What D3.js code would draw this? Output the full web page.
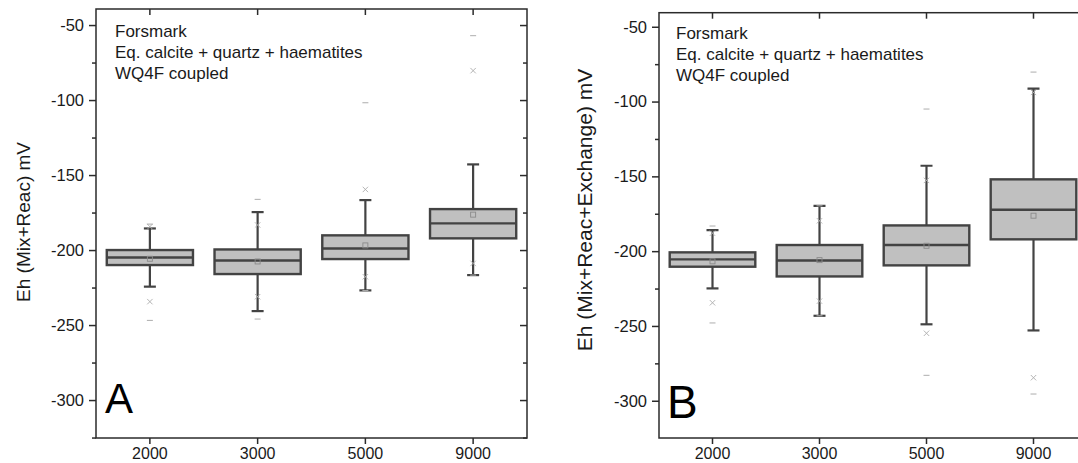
<!DOCTYPE html>
<html>
<head>
<meta charset="utf-8">
<script src="https://cdn.jsdelivr.net/npm/d3@7"></script>
<style>
  html, body { margin: 0; padding: 0; background: #fff; overflow: hidden; }
  svg { display: block; font-family: Arial, "Liberation Sans", sans-serif; }
</style>
</head>
<body>
<svg id="chart" width="1078" height="463"></svg>
<script>
// ---------- data ----------
const categories = ["2000", "3000", "5000", "9000"];
const yTicks = [-300, -250, -200, -150, -100, -50];
const yMinorTicks = [-325, -275, -225, -175, -125, -75];
const annotationLines = ["Forsmark", "Eq. calcite + quartz + haematites", "WQ4F coupled"];

// Panel A: Eh (Mix+Reac)
const aWhiskerLow  = [-224.4, -240.7, -226.9, -216.7];
const aQ1          = [-210.0, -216.0, -206.0, -192.2];
const aMedian      = [-205.0, -207.0, -199.0, -182.2];
const aQ3          = [-200.0, -199.6, -190.2, -172.7];
const aWhiskerHigh = [-185.6, -174.7, -166.7, -142.9];
const aMean        = [-205.8, -207.6, -196.9, -176.4];
const aP1          = [-234.4, -231.1, -217.8, -208.9];
const aP99         = [-184.4, -183.3, -159.6, -80.4];
const aMin         = [-246.9, -246.0, -227.0, -216.7];
const aMax         = [-182.7, -166.2, -101.8, -57.1];

// Panel B: Eh (Mix+Reac+Exchange)
const bWhiskerLow  = [-224.9, -243.2, -248.9, -253.0];
const bQ1          = [-210.4, -216.9, -209.5, -192.1];
const bMedian      = [-205.5, -206.2, -195.9, -172.3];
const bQ3          = [-200.8, -195.9, -182.8, -152.0];
const bWhiskerHigh = [-185.9, -169.7, -142.9, -91.4];
const bMean        = [-206.8, -206.0, -196.4, -176.3];
const bP1          = [-234.5, -233.4, -254.9, -284.6];
const bP99         = [-188.0, -179.7, -152.7, -93.9];
const bMin         = [-248.0, -243.2, -283.0, -295.5];
const bMax         = [-183.2, -169.7, -105.0, -80.3];

// ---------- drawing ----------
const svg = d3.select("#chart");
const BOX_STROKE = "#434343";
const FRAME = "#2b2b2b";
const MARK = "#adadad";

function panel(cfg) {
  const g = svg.append("g");
  const x = d3.scaleBand().domain(categories).range([cfg.left, cfg.right]).padding(0);
  const y = d3.scaleLinear().domain(cfg.yDomain).range([cfg.bottom, cfg.top]);
  const bw = x.bandwidth() * 0.8;
  const cx = c => x(c) + x.bandwidth() / 2;

  const rows = categories.map((c, i) => ({
    c, lo: cfg.wl[i], q1: cfg.q1[i], med: cfg.med[i], q3: cfg.q3[i], hi: cfg.wh[i],
    mean: cfg.mean[i], p1: cfg.p1[i], p99: cfg.p99[i], mn: cfg.min[i], mx: cfg.max[i]
  }));

  const clipId = "clip" + cfg.id;
  svg.append("clipPath").attr("id", clipId).append("rect")
    .attr("x", cfg.left).attr("y", cfg.top)
    .attr("width", cfg.right - cfg.left).attr("height", cfg.bottom - cfg.top);
  const plot = g.append("g").attr("clip-path", `url(#${clipId})`);

  // annotation text
  const ann = g.append("text").attr("font-size", 17).attr("fill", "#1a1a1a");
  annotationLines.forEach((t, i) => {
    ann.append("tspan").attr("x", cfg.annX).attr("y", cfg.annY + i * 21).text(t);
  });

  // whiskers
  const wg = plot.selectAll(".wh").data(rows).join("g");
  wg.append("line")
    .attr("x1", d => cx(d.c)).attr("x2", d => cx(d.c))
    .attr("y1", d => y(d.hi)).attr("y2", d => y(d.q3))
    .attr("stroke", BOX_STROKE).attr("stroke-width", 2.2);
  wg.append("line")
    .attr("x1", d => cx(d.c)).attr("x2", d => cx(d.c))
    .attr("y1", d => y(d.q1)).attr("y2", d => y(d.lo))
    .attr("stroke", BOX_STROKE).attr("stroke-width", 2.2);
  const capW = 12;
  ["hi", "lo"].forEach(k => {
    wg.append("line")
      .attr("x1", d => cx(d.c) - capW / 2).attr("x2", d => cx(d.c) + capW / 2)
      .attr("y1", d => y(d[k])).attr("y2", d => y(d[k]))
      .attr("stroke", BOX_STROKE).attr("stroke-width", 2.2);
  });

  // boxes
  plot.selectAll(".box").data(rows).join("rect")
    .attr("x", d => cx(d.c) - bw / 2).attr("width", bw)
    .attr("y", d => y(d.q3)).attr("height", d => y(d.q1) - y(d.q3))
    .attr("fill", "#c0c0c0").attr("stroke", BOX_STROKE).attr("stroke-width", 2.4);
  plot.selectAll(".med").data(rows).join("line")
    .attr("x1", d => cx(d.c) - bw / 2).attr("x2", d => cx(d.c) + bw / 2)
    .attr("y1", d => y(d.med)).attr("y2", d => y(d.med))
    .attr("stroke", BOX_STROKE).attr("stroke-width", 2.4);

  // mean squares
  plot.selectAll(".mean").data(rows).join("rect")
    .attr("x", d => cx(d.c) - 2.5).attr("y", d => y(d.mean) - 2.5)
    .attr("width", 5).attr("height", 5)
    .attr("fill", "none").attr("stroke", "#8a8a8a").attr("stroke-width", 0.9);

  // 1%/99% crosses
  const s = 2.7;
  ["p1", "p99"].forEach(k => {
    plot.selectAll(".x" + k).data(rows).join("path")
      .attr("d", d => {
        const X = cx(d.c), Y = y(d[k]);
        return `M${X - s},${Y - s}L${X + s},${Y + s}M${X - s},${Y + s}L${X + s},${Y - s}`;
      })
      .attr("stroke", MARK).attr("stroke-width", 0.9).attr("fill", "none");
  });
  // min/max dashes
  ["mn", "mx"].forEach(k => {
    plot.selectAll(".d" + k).data(rows).join("line")
      .attr("x1", d => cx(d.c) - 3).attr("x2", d => cx(d.c) + 3)
      .attr("y1", d => y(d[k])).attr("y2", d => y(d[k]))
      .attr("stroke", MARK).attr("stroke-width", 1);
  });

  // frame
  g.append("rect")
    .attr("x", cfg.left).attr("y", cfg.top)
    .attr("width", cfg.right - cfg.left).attr("height", cfg.bottom - cfg.top)
    .attr("fill", "none").attr("stroke", FRAME).attr("stroke-width", 1.5);

  // left axis (outward ticks), plain hyphen-minus labels
  const left = g.append("g").attr("transform", `translate(${cfg.left},0)`)
    .call(d3.axisLeft(y).tickValues(yTicks).tickSize(7).tickPadding(5).tickFormat(d => String(d)));
  left.select(".domain").remove();
  left.selectAll(".tick line").attr("stroke", FRAME).attr("stroke-width", 1.5);
  left.selectAll(".tick text").attr("font-size", 16.5).attr("fill", "#1a1a1a")
    .attr("font-family", "Arial, 'Liberation Sans', sans-serif");
  const leftMinor = g.append("g").attr("transform", `translate(${cfg.left},0)`)
    .call(d3.axisLeft(y).tickValues(yMinorTicks.filter(v => v > cfg.yDomain[0])).tickSize(4).tickFormat(""));
  leftMinor.select(".domain").remove();
  leftMinor.selectAll(".tick line").attr("stroke", FRAME).attr("stroke-width", 1.5);

  // right axis (inward ticks)
  const right = g.append("g").attr("transform", `translate(${cfg.right},0)`)
    .call(d3.axisRight(y).tickValues(yTicks).tickSize(-7).tickFormat(""));
  right.select(".domain").remove();
  right.selectAll(".tick line").attr("stroke", FRAME).attr("stroke-width", 1.5);
  const rightMinor = g.append("g").attr("transform", `translate(${cfg.right},0)`)
    .call(d3.axisRight(y).tickValues(yMinorTicks.filter(v => v > cfg.yDomain[0])).tickSize(-4).tickFormat(""));
  rightMinor.select(".domain").remove();
  rightMinor.selectAll(".tick line").attr("stroke", FRAME).attr("stroke-width", 1.5);

  // bottom axis (outward)
  const bottom = g.append("g").attr("transform", `translate(0,${cfg.bottom})`)
    .call(d3.axisBottom(x).tickSize(6).tickPadding(4));
  bottom.select(".domain").remove();
  bottom.selectAll(".tick line").attr("stroke", FRAME).attr("stroke-width", 1.5);
  bottom.selectAll(".tick text").attr("font-size", 16).attr("fill", "#1a1a1a")
    .attr("font-family", "Arial, 'Liberation Sans', sans-serif");

  // top axis (inward)
  const top = g.append("g").attr("transform", `translate(0,${cfg.top})`)
    .call(d3.axisTop(x).tickSize(-6).tickFormat(""));
  top.select(".domain").remove();
  top.selectAll(".tick line").attr("stroke", FRAME).attr("stroke-width", 1.5);

  // y title
  g.append("text")
    .attr("transform", `translate(${cfg.titleX},${cfg.titleY}) rotate(-90)`)
    .attr("text-anchor", "middle").attr("font-size", cfg.titleSize).attr("fill", "#1a1a1a")
    .text(cfg.title);

  // panel letter
  g.append("text").attr("x", cfg.letterX).attr("y", cfg.letterY)
    .attr("font-size", cfg.letterSize).attr("fill", "#000").text(cfg.letter);
}

panel({
  id: "A", left: 96, right: 527, top: 9, bottom: 438,
  yDomain: [-325.3, -39.3],
  wl: aWhiskerLow, q1: aQ1, med: aMedian, q3: aQ3, wh: aWhiskerHigh,
  mean: aMean, p1: aP1, p99: aP99, min: aMin, max: aMax,
  annX: 115, annY: 37,
  title: "Eh (Mix+Reac) mV", titleX: 30, titleY: 222, titleSize: 19,
  letter: "A", letterX: 105, letterY: 413, letterSize: 42
});

panel({
  id: "B", left: 659, right: 1087, top: 12.7, bottom: 438,
  yDomain: [-324.9, -40.6],
  wl: bWhiskerLow, q1: bQ1, med: bMedian, q3: bQ3, wh: bWhiskerHigh,
  mean: bMean, p1: bP1, p99: bP99, min: bMin, max: bMax,
  annX: 676, annY: 39,
  title: "Eh (Mix+Reac+Exchange) mV", titleX: 592, titleY: 210, titleSize: 21,
  letter: "B", letterX: 667, letterY: 418, letterSize: 46
});
</script>
</body>
</html>
